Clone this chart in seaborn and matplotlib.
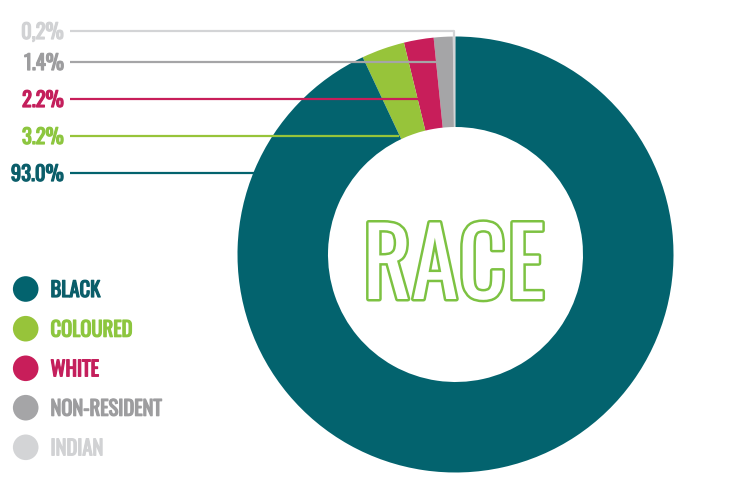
import matplotlib
matplotlib.use('Agg')
import matplotlib.pyplot as plt
import matplotlib.patheffects as pe
from matplotlib.patches import Circle
import seaborn as sns

# data, in drawing order (counter-clockwise from 12 o'clock)
groups = ['INDIAN', 'NON-RESIDENT', 'WHITE', 'COLOURED', 'BLACK']
shares = [0.2, 1.4, 2.2, 3.2, 93.0]
share_labels = ['0,2%', '1.4%', '2.2%', '3.2%', '93.0%']
colors = ['#D3D4D6', '#A5A5A7', '#C81E5A', '#97C43A', '#03636E']
text_colors = ['#D1D2D4', '#9D9D9F', '#C41F5C', '#8DC63F', '#0B5E6A']

sns.set_theme(style='white')
plt.rcParams['font.family'] = ['Oswald', 'Barlow Condensed', 'DejaVu Sans']

W, H = 737, 499
fig = plt.figure(figsize=(W / 100, H / 100), dpi=100)
ax = fig.add_axes([0, 0, 1, 1])

cx, cy = 455.5, H - 254.5
r_out, r_in = 218, 127.5
ax.pie(shares, colors=sns.color_palette(colors), startangle=90, counterclock=True,
       radius=r_out, center=(cx, cy),
       wedgeprops=dict(width=r_out - r_in, linewidth=0))

CAP = 16  # cap height of the small labels in px
fs = 14.8


def bold(c):
    # fake a heavier cut of the font
    return [pe.Stroke(linewidth=0.9, foreground=c), pe.Normal()]


# percentage labels with leader lines (top to bottom)
label_y = [31, 62, 99, 136, 173]
line_end = [454.5, 444, 426, 399, 287]
for i in range(len(groups)):
    y = H - label_y[i]
    ax.plot([70, line_end[i]], [y, y], color=colors[i], lw=1.6, solid_capstyle='butt', zorder=3)
    ax.text(64, y - CAP / 2, share_labels[i], ha='right', va='baseline',
            color=text_colors[i], fontsize=fs, path_effects=bold(text_colors[i]))
# the tiny slice gets a little drop to the ring
ax.plot([454.5, 454.5], [H - label_y[0], H - 37], color=colors[0], lw=1.6, zorder=3)

# legend
leg_y = [289, 328.7, 368.3, 407.7, 447.3]
order = ['BLACK', 'COLOURED', 'WHITE', 'NON-RESIDENT', 'INDIAN']
for j, name in enumerate(order):
    i = groups.index(name)
    y = H - leg_y[j]
    ax.add_patch(Circle((25.7, y), 12.8, color=colors[i], lw=0))
    ax.text(50.5, y - CAP / 2, name, ha='left', va='baseline',
            color=text_colors[i], fontsize=fs, path_effects=bold(text_colors[i]))

# outlined title in the hole
ax.text(454, H - 299, 'RACE', ha='center', va='baseline', fontsize=68,
        color='white',
        path_effects=[pe.Stroke(linewidth=3.6, foreground='#7DC242'), pe.Normal()])

ax.set_xlim(0, W)
ax.set_ylim(0, H)
ax.set_aspect('equal')
ax.axis('off')

fig.savefig('out.png', dpi=100, facecolor='white')
